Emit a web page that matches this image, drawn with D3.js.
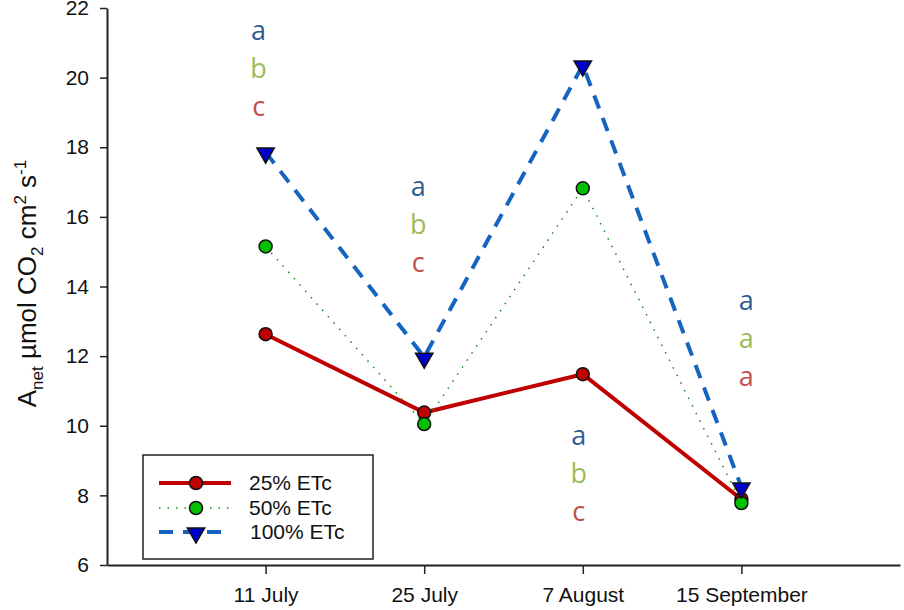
<!DOCTYPE html>
<html>
<head>
<meta charset="utf-8">
<script src="https://cdn.jsdelivr.net/npm/d3@7"></script>
<style>
  body { margin: 0; background: #fff; }
  svg { display: block; font-family: Arial, "Liberation Sans", sans-serif; }
</style>
</head>
<body>
<div id="chart"></div>
<script>
// dates on the x axis
const dates = ['11 July', '25 July', '7 August', '15 September'];

// A_net values per irrigation treatment
const etc25 = [12.63, 10.38, 11.48, 7.89];
const etc50 = [15.15, 10.05, 16.82, 7.78];
const etc100 = [17.86, 11.97, 20.36, 8.24];

const yTicks = [6, 8, 10, 12, 14, 16, 18, 20, 22];

// significance letters: position (data units) of the letter column per date
const letterX = [0.956, 1.962, 2.975, 4.03];
const letterTop = [21.32, 16.84, 9.68, 13.56];
const lettersBlue = ['a', 'a', 'a', 'a'];
const lettersGreen = ['b', 'b', 'b', 'a'];
const lettersRed = ['c', 'c', 'c', 'a'];

const series = [
  { name: '25% ETc', values: etc25, color: '#c00000', fill: '#c00000', marker: 'circle', dash: null, width: 4 },
  { name: '50% ETc', values: etc50, color: '#1a8a1a', fill: '#00c000', marker: 'circle', dash: '1.5,7', width: 1.5 },
  { name: '100% ETc', values: etc100, color: '#1565c0', fill: '#0000cc', marker: 'triangle', dash: '14,10', width: 4 }
];

const W = 904, H = 610;
const margin = { left: 107, right: 4, top: 8, bottom: 45 };

const svg = d3.select('#chart').append('svg')
  .attr('width', W).attr('height', H);

const x = d3.scaleLinear().domain([0, 5]).range([margin.left, W - margin.right]);
const y = d3.scaleLinear().domain([6, 22]).range([H - margin.bottom, margin.top]);

// axes
const xAxis = d3.axisBottom(x)
  .tickValues([1, 2, 3, 4])
  .tickFormat((d) => dates[d - 1])
  .tickSizeInner(9).tickSizeOuter(0).tickPadding(13);

svg.append('g')
  .attr('transform', `translate(0,${y(6)})`)
  .call(xAxis)
  .call((g) => {
    g.select('.domain').attr('stroke', '#222').attr('stroke-width', 2);
    g.selectAll('.tick line').attr('stroke', '#222').attr('stroke-width', 1.5);
    g.selectAll('text').attr('font-size', 21).attr('fill', '#111').attr('font-family', 'Arial, "Liberation Sans", sans-serif');
  });

const yAxis = d3.axisLeft(y)
  .tickValues(yTicks)
  .tickSizeInner(7).tickSizeOuter(0).tickPadding(11);

svg.append('g')
  .attr('transform', `translate(${margin.left},0)`)
  .call(yAxis)
  .call((g) => {
    g.select('.domain').attr('stroke', '#222').attr('stroke-width', 2);
    g.selectAll('.tick line').attr('stroke', '#222').attr('stroke-width', 1.5);
    g.selectAll('text').attr('font-size', 21).attr('fill', '#111').attr('font-family', 'Arial, "Liberation Sans", sans-serif');
  });

// y axis title
const yTitle = svg.append('text')
  .attr('transform', `translate(36,${(y(6) + y(22)) / 2 - 3}) rotate(-90)`)
  .attr('text-anchor', 'middle')
  .attr('font-size', 26)
  .attr('fill', '#111');
yTitle.append('tspan').text('A');
yTitle.append('tspan').attr('font-size', 17).attr('dy', 7).text('net');
yTitle.append('tspan').attr('dy', -7).text(' \u00b5mol CO');
yTitle.append('tspan').attr('font-size', 17).attr('dy', 7).text('2');
yTitle.append('tspan').attr('dy', -7).text(' cm');
yTitle.append('tspan').attr('font-size', 17).attr('dy', -10).text('2');
yTitle.append('tspan').attr('dy', 10).text(' s');
yTitle.append('tspan').attr('font-size', 17).attr('dy', -10).text('-1');

// lines
const line = d3.line()
  .x((d, i) => x(i + 1))
  .y((d) => y(d));

const triangle = d3.symbol().type(d3.symbolTriangle).size(130);

series.forEach((s) => {
  svg.append('path')
    .datum(s.values)
    .attr('fill', 'none')
    .attr('stroke', s.color)
    .attr('stroke-width', s.width)
    .attr('stroke-dasharray', s.dash)
    .attr('d', line);
});

series.forEach((s) => {
  const g = svg.append('g');
  if (s.marker === 'circle') {
    g.selectAll('circle').data(s.values).enter().append('circle')
      .attr('cx', (d, i) => x(i + 1))
      .attr('cy', (d) => y(d))
      .attr('r', 6.5)
      .attr('fill', s.fill)
      .attr('stroke', '#111')
      .attr('stroke-width', 1.5);
  } else {
    g.selectAll('path').data(s.values).enter().append('path')
      .attr('d', triangle)
      .attr('transform', (d, i) => `translate(${x(i + 1)},${y(d) + 1}) rotate(180)`)
      .attr('fill', s.fill)
      .attr('stroke', '#111')
      .attr('stroke-width', 1.5);
  }
});

// significance letters
const letterRows = [
  { letters: lettersBlue, color: '#2f5a8f', offset: 0 },
  { letters: lettersGreen, color: '#9bbb59', offset: 1.09 },
  { letters: lettersRed, color: '#c0504d', offset: 2.18 }
];
letterRows.forEach((row) => {
  svg.append('g').selectAll('text').data(row.letters).enter().append('text')
    .attr('x', (d, i) => x(letterX[i]))
    .attr('y', (d, i) => y(letterTop[i] - row.offset))
    .attr('dy', '0.3em')
    .attr('text-anchor', 'middle')
    .attr('font-family', '"Open Sans", Lato, sans-serif')
    .attr('font-size', 27)
    .attr('fill', row.color)
    .text((d) => d);
});

// legend
const legend = svg.append('g').attr('transform', 'translate(143,455)');
legend.append('rect')
  .attr('width', 230).attr('height', 104)
  .attr('fill', '#fff').attr('stroke', '#222').attr('stroke-width', 1.5);

const rowY = [28, 53, 77];
series.forEach((s, i) => {
  const r = legend.append('g').attr('transform', `translate(0,${rowY[i]})`);
  r.append('line')
    .attr('x1', 16).attr('x2', 88)
    .attr('stroke', s.color)
    .attr('stroke-width', s.width)
    .attr('stroke-dasharray', s.dash);
  if (s.marker === 'circle') {
    r.append('circle').attr('cx', 53).attr('r', 6.5)
      .attr('fill', s.fill).attr('stroke', '#111').attr('stroke-width', 1.5);
  } else {
    r.append('path').attr('d', triangle)
      .attr('transform', 'translate(53,1) rotate(180)')
      .attr('fill', s.fill).attr('stroke', '#111').attr('stroke-width', 1.5);
  }
  r.append('text')
    .attr('x', i === 2 ? 107 : 106)
    .attr('dy', '0.35em')
    .attr('font-size', 21)
    .attr('fill', '#111')
    .text(s.name);
});
</script>
</body>
</html>
